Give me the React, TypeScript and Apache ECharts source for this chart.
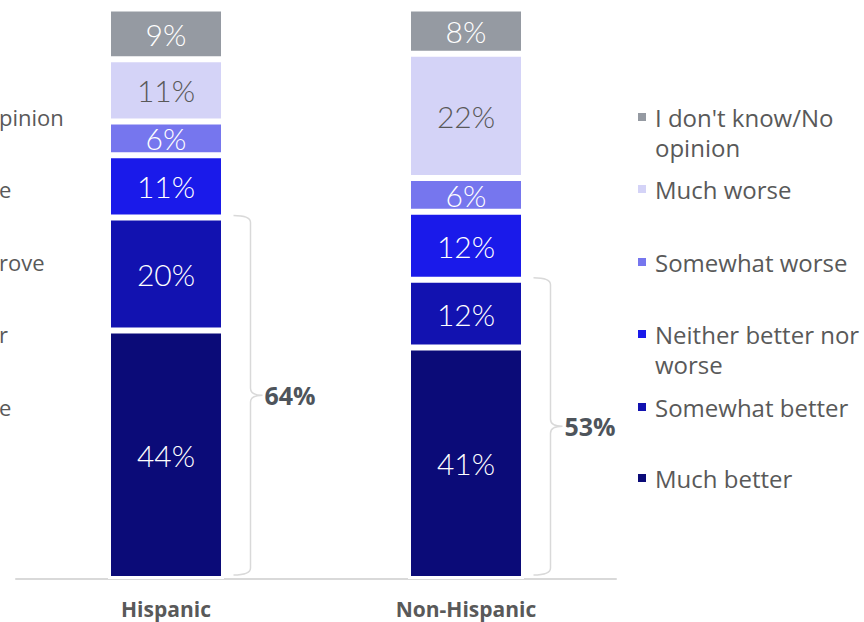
import React, { useEffect, useRef } from "react";
import * as echarts from "echarts";

const categories = ["Hispanic", "Non-Hispanic"];
const seriesNames = [
  "Much better",
  "Somewhat better",
  "Neither better nor worse",
  "Somewhat worse",
  "Much worse",
  "I don't know/No opinion",
];
const muchBetter = [44, 41];
const somewhatBetter = [20, 12];
const neither = [11, 12];
const somewhatWorse = [6, 6];
const muchWorse = [11, 22];
const dontKnow = [9, 8];
const seriesValues = [muchBetter, somewhatBetter, neither, somewhatWorse, muchWorse, dontKnow];
const colors = ["#0b0b78", "#1212b0", "#1a1aea", "#7676ee", "#d4d3f7", "#959aa2"];
const labelColors = ["#ffffff", "#ffffff", "#ffffff", "#ffffff", "#595959", "#ffffff"];
// legend texts (top to bottom, as shown on the right)
const legendLines = [
  ["I don't know/No", "opinion"],
  ["Much worse"],
  ["Somewhat worse"],
  ["Neither better nor", "worse"],
  ["Somewhat better"],
  ["Much better"],
];
const legendColorIdx = [5, 4, 3, 2, 1, 0];
// cut-off fragments of a neighbouring panel's labels at the left edge
const leftFragments = ["pinion", "e", "rove", "r", "e"];

// layout
const legendY = [117, 189, 262, 334, 407, 478];
const fragmentY = [117, 189, 262, 334, 407];
const BAR_W = 113;
const FONT = "'Open Sans', 'DejaVu Sans', sans-serif";

export default function App() {
  const ref = useRef<HTMLDivElement>(null);
  useEffect(() => {
    if (!ref.current) return;
    const chart = echarts.init(ref.current, undefined, { renderer: "svg" });
    const totalBetter = categories.map((_, i) => muchBetter[i] + somewhatBetter[i]);
    const yMax = categories
      .map((_, i) => seriesValues.reduce((s, arr) => s + arr[i], 0))
      .reduce((a, b) => Math.max(a, b), 0);

    const bars = seriesNames.map((name, k) => ({
      name,
      type: "bar",
      stack: "total",
      barWidth: BAR_W + 3,
      data: seriesValues[k],
      itemStyle: { color: colors[k], borderColor: "#ffffff", borderWidth: 3 },
      label: {
        show: true,
        position: "inside",
        formatter: "{c}%",
        color: labelColors[k],
        fontFamily: "Lato, 'Open Sans', sans-serif",
        fontWeight: 300,
        fontSize: 30,
      },
      silent: true,
    }));

    const brace = {
      type: "custom",
      silent: true,
      z: 5,
      data: categories.map((_, i) => [i, 0, totalBetter[i]]),
      renderItem: (params: any, api: any) => {
        const cat = api.value(0);
        const lo = api.value(1);
        const hi = api.value(2);
        const pTop = api.coord([cat, hi]);
        const pBot = api.coord([cat, lo]);
        const x0 = pTop[0] + BAR_W / 2 + 11;
        const x1 = x0 + 17;
        const x2 = x1 + 12;
        const yT = pTop[1] - 2;
        const yB = pBot[1] - 4;
        const ym = (yT + yB) / 2;
        const r = 7;
        const d =
          `M${x0} ${yT} Q${x1} ${yT} ${x1} ${yT + r} L${x1} ${ym - r} ` +
          `Q${x1} ${ym} ${x2} ${ym} Q${x1} ${ym} ${x1} ${ym + r} ` +
          `L${x1} ${yB - r} Q${x1} ${yB} ${x0} ${yB}`;
        return {
          type: "group",
          children: [
            {
              type: "path",
              shape: { pathData: d },
              style: { fill: "none", stroke: "#d9d9d9", lineWidth: 1.5 },
            },
            {
              type: "text",
              style: {
                text: `${hi}%`,
                x: x2 + 2,
                y: ym,
                verticalAlign: "middle",
                align: "left",
                fontFamily: FONT,
                fontWeight: "bold",
                fontSize: 25,
                fill: "#4e545b",
              },
            },
          ],
        };
      },
    };

    const graphics: any[] = [];
    legendLines.forEach((lines, i) => {
      graphics.push({
        type: "rect",
        left: 638,
        top: legendY[i] - 4,
        shape: { width: 8, height: 8 },
        style: { fill: colors[legendColorIdx[i]] },
        silent: true,
      });
      lines.forEach((t, j) => {
        graphics.push({
          type: "text",
          x: 655,
          y: legendY[i] + j * 30,
          style: {
            text: t,
            fill: "#595959",
            fontFamily: FONT,
            fontSize: 24,
            verticalAlign: "middle",
            align: "left",
          },
          silent: true,
        });
      });
    });
    leftFragments.forEach((t, i) => {
      graphics.push({
        type: "text",
        x: -1,
        y: fragmentY[i],
        style: {
          text: t,
          fill: "#595959",
          fontFamily: FONT,
          fontSize: 22,
          verticalAlign: "middle",
          align: "left",
        },
        silent: true,
      });
    });

    chart.setOption({
      animation: false,
      grid: { left: 16, right: 248, top: 8.5, bottom: 43 },
      xAxis: {
        type: "category",
        data: categories,
        axisLine: { show: true, lineStyle: { color: "#d9d9d9", width: 2 } },
        axisTick: { show: false },
        axisLabel: {
          color: "#595959",
          fontFamily: FONT,
          fontWeight: "bold",
          fontSize: 21,
          lineHeight: 22,
          margin: 19,
        },
      },
      yAxis: {
        type: "value",
        min: 0,
        max: yMax,
        show: false,
        splitLine: { show: false },
      },
      series: [...bars, brace],
      graphic: graphics,
    });
    return () => chart.dispose();
  }, []);
  return (
    <div
      ref={ref}
      style={{ position: "fixed", left: 0, top: 0, width: 864, height: 622, background: "#ffffff" }}
    />
  );
}
